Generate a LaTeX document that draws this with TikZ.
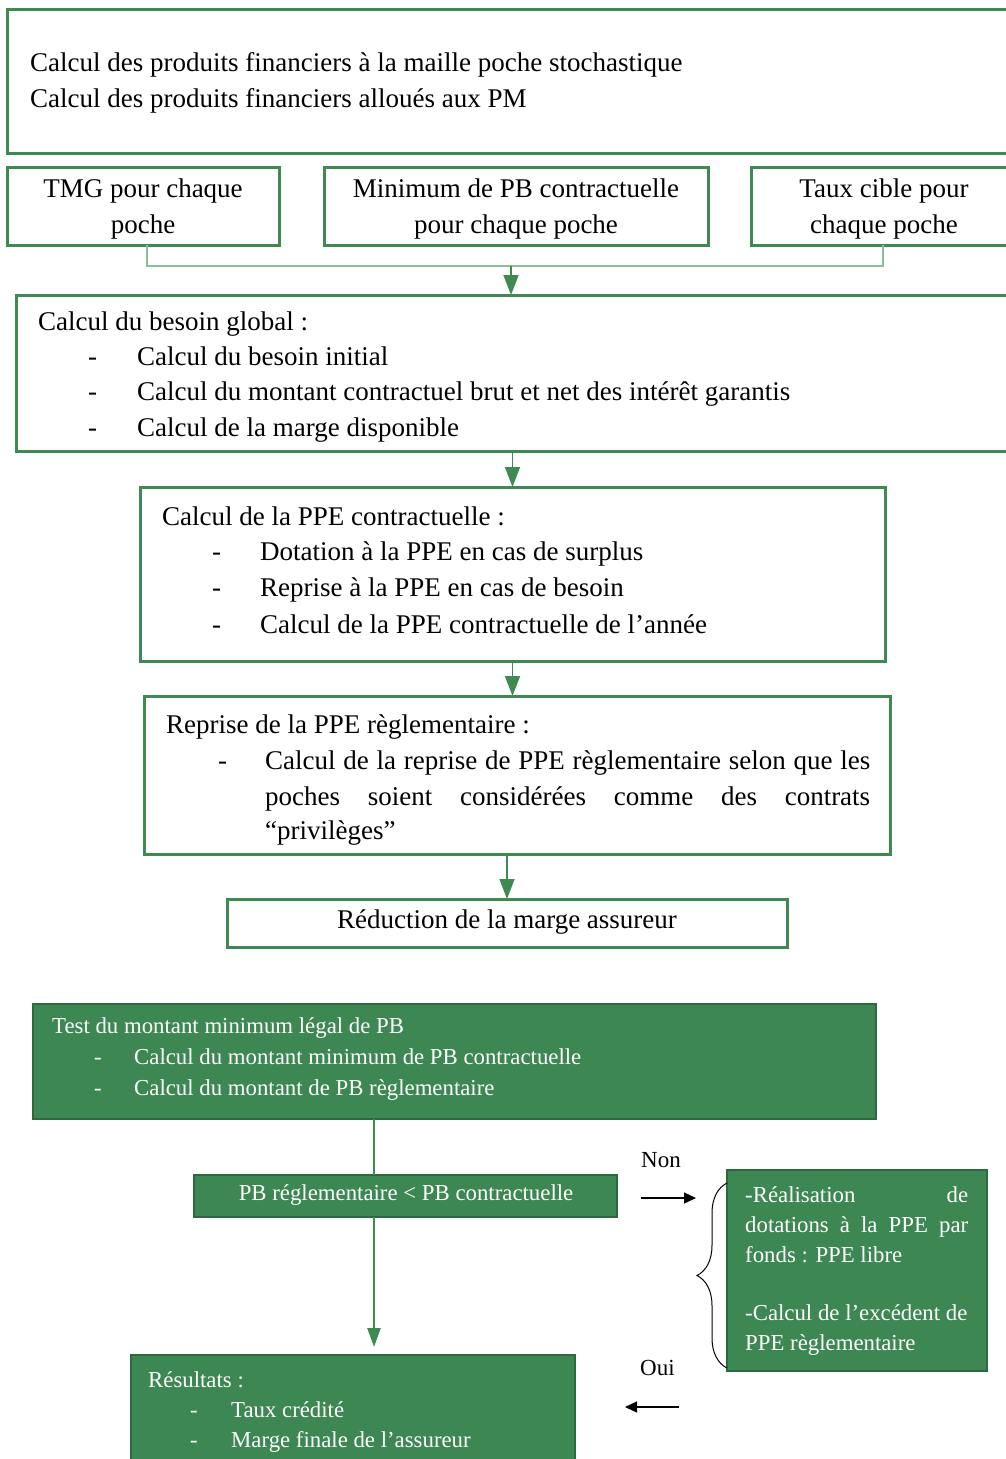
\documentclass[tikz,border=0pt]{standalone}
\usepackage{fontspec}
\setmainfont{Liberation Serif}
\usetikzlibrary{arrows.meta,decorations.pathreplacing}

\definecolor{lineGreen}{RGB}{62,138,82}
\definecolor{paleGreen}{RGB}{140,190,152}
\definecolor{fillGreen}{RGB}{61,135,83}
\definecolor{edgeGreen}{RGB}{46,104,64}

\newcommand\bodyfont{\fontsize{27pt}{36pt}\selectfont}
\newcommand\greenfont{\fontsize{22.8pt}{30pt}\selectfont}

\begin{document}
\begin{tikzpicture}[x=1pt,y=-1pt,
  outlinebox/.style={draw=lineGreen, line width=3pt, fill=white, inner sep=0pt, outer sep=0pt, anchor=north west},
  greenbox/.style={draw=edgeGreen, line width=2pt, fill=fillGreen, inner sep=0pt, outer sep=0pt, anchor=north west},
  txt/.style={inner sep=0pt, font=\bodyfont, text=black},
  wtxt/.style={inner sep=0pt, font=\greenfont, text=white},
  lbl/.style={inner sep=0pt, font=\fontsize{23pt}{28pt}\selectfont, text=black},
  feed/.style={draw=paleGreen, line width=2.2pt},
  flow/.style={draw=lineGreen, line width=1.6pt, -{Triangle[length=20pt,width=15pt]}},
  trunk/.style={draw=lineGreen, line width=2.4pt},
  trunkarrow/.style={draw=lineGreen, line width=2.4pt, -{Triangle[length=19pt,width=13pt]}},
  blackarrow/.style={draw=black, line width=1.2pt, -{Triangle[length=12pt,width=11pt]}}]

\useasboundingbox (0,0) rectangle (1006,1459);
\clip (0,0) rectangle (1006,1459);
\fill[white] (0,0) rectangle (1006,1459);

% ---------- upper part: outlined boxes ----------
\node[outlinebox, minimum width=1008pt, minimum height=144pt] (b1) at (7,9) {};
\node[txt, anchor=base west] (b1l1) at (30,71) {Calcul des produits financiers à la maille poche stochastique};
\node[txt, anchor=base west] (b1l2) at (30,107) {Calcul des produits financiers alloués aux PM};

\node[outlinebox, minimum width=272pt, minimum height=78pt] (bA) at (7,167) {};
\node[txt, anchor=base] (bAl1) at (143,197) {TMG pour chaque};
\node[txt, anchor=base] (bAl2) at (143,233) {poche};

\node[outlinebox, minimum width=384pt, minimum height=78pt] (bB) at (324,167) {};
\node[txt, anchor=base] (bBl1) at (516,197) {Minimum de PB contractuelle};
\node[txt, anchor=base] (bBl2) at (516,233) {pour chaque poche};

\node[outlinebox, minimum width=264pt, minimum height=78pt] (bC) at (751,167) {};
\node[txt, anchor=base] (bCl1) at (884,197) {Taux cible pour};
\node[txt, anchor=base] (bCl2) at (884,233) {chaque poche};

\node[outlinebox, minimum width=999pt, minimum height=156pt] (b3) at (16,295) {};
\node[txt, anchor=base west] (b3h) at (38,330) {Calcul du besoin global :};
\node[txt, anchor=base west] (b3d1) at (88,365) {-};
\node[txt, anchor=base west] (b3l1) at (137,365) {Calcul du besoin initial};
\node[txt, anchor=base west] (b3d2) at (88,400) {-};
\node[txt, anchor=base west] (b3l2) at (137,400) {Calcul du montant contractuel brut et net des intérêt garantis};
\node[txt, anchor=base west] (b3d3) at (88,436) {-};
\node[txt, anchor=base west] (b3l3) at (137,436) {Calcul de la marge disponible};

\node[outlinebox, minimum width=745pt, minimum height=174pt] (b4) at (140,487) {};
\node[txt, anchor=base west] (b4h) at (162,525) {Calcul de la PPE contractuelle :};
\node[txt, anchor=base west] (b4d1) at (212,560) {-};
\node[txt, anchor=base west] (b4l1) at (260,560) {Dotation à la PPE en cas de surplus};
\node[txt, anchor=base west] (b4d2) at (212,596) {-};
\node[txt, anchor=base west] (b4l2) at (260,596) {Reprise à la PPE en cas de besoin};
\node[txt, anchor=base west] (b4d3) at (212,633) {-};
\node[txt, anchor=base west] (b4l3) at (260,633) {Calcul de la PPE contractuelle de l’année};

\node[outlinebox, minimum width=746pt, minimum height=158pt] (b5) at (144,696) {};
\node[txt, anchor=base west] (b5h) at (166,733) {Reprise de la PPE règlementaire :};
\node[txt, anchor=base west] (b5d1) at (218,769) {-};
\node[txt, anchor=base west] (b5l1) at (265,769) {\makebox[605pt][s]{Calcul de la reprise de PPE règlementaire selon que les}};
\node[txt, anchor=base west] (b5l2) at (265,805) {\makebox[605pt][s]{poches soient considérées comme des contrats}};
\node[txt, anchor=base west] (b5l3) at (265,839) {“privilèges”};

\node[outlinebox, minimum width=560pt, minimum height=48pt] (b6) at (227,899) {};
\node[txt, anchor=base] (b6l) at (507,928) {Réduction de la marge assureur};

% connectors of the upper part
\coordinate (join) at (511,266);
\draw[feed] (bA.south) ++(4,0) |- (join) -| (bC.south);
\draw[flow] (join) -- (join |- b3.north);
\draw[flow] (b3.south -| b4.north) -- (b4.north);
\draw[flow] (b4.south) -- (b4.south |- b5.north);
\draw[flow] (b5.south -| b6.north) -- (b6.north);

% ---------- lower part: filled boxes ----------
\node[greenbox, minimum width=843pt, minimum height=115pt] (b7) at (33,1004) {};
\node[wtxt, anchor=base west] (b7h) at (52,1033) {Test du montant minimum légal de PB};
\node[wtxt, anchor=base west] (b7d1) at (94,1064) {-};
\node[wtxt, anchor=base west] (b7l1) at (134,1064) {Calcul du montant minimum de PB contractuelle};
\node[wtxt, anchor=base west] (b7d2) at (94,1095) {-};
\node[wtxt, anchor=base west] (b7l2) at (134,1095) {Calcul du montant de PB règlementaire};

\node[greenbox, minimum width=423pt, minimum height=42pt] (b8) at (194,1175) {};
\node[wtxt, anchor=base] (b8l) at (406,1200) {PB réglementaire < PB contractuelle};

\node[greenbox, minimum width=444pt, minimum height=107pt] (b9) at (131,1355) {};
\node[wtxt, anchor=base west] (b9h) at (148,1387) {Résultats :};
\node[wtxt, anchor=base west] (b9d1) at (190,1417) {-};
\node[wtxt, anchor=base west] (b9l1) at (231,1417) {Taux crédité};
\node[wtxt, anchor=base west] (b9d2) at (190,1447) {-};
\node[wtxt, anchor=base west] (b9l2) at (231,1447) {Marge finale de l’assureur};

\node[greenbox, minimum width=260pt, minimum height=201pt] (b10) at (727,1170) {};
\node[wtxt, anchor=base west] (b10l1) at (745,1202) {\makebox[223pt][s]{-Réalisation de}};
\node[wtxt, anchor=base west] (b10l2) at (745,1232) {\makebox[223pt][s]{dotations à la PPE par}};
\node[wtxt, anchor=base west] (b10l3) at (745,1262) {fonds : PPE libre};
\node[wtxt, anchor=base west] (b10l4) at (745,1320) {-Calcul de l’excédent de};
\node[wtxt, anchor=base west] (b10l5) at (745,1350) {PPE règlementaire};

\node[lbl, anchor=base west] (non) at (641,1167) {Non};
\node[lbl, anchor=base west] (oui) at (640,1375) {Oui};

% connectors of the lower part
\coordinate (stem) at (374,1119);
\draw[trunk] (b7.south -| stem) -- (b8.north -| stem);
\draw[trunkarrow, shorten >=8pt] (b8.south -| stem) -- (b9.north -| stem);
\coordinate (nonstart) at (641,1198);
\coordinate (ouistart) at (679,1407);
\draw[blackarrow, shorten >=31pt] (nonstart) -- (nonstart -| b10.west);
\draw[blackarrow, shorten >=50pt] (ouistart) -- (ouistart -| b9.east);
\draw[black, line width=1pt, decorate, decoration={brace, amplitude=30pt, aspect=0.5}]
  ([yshift=3pt]b10.south west) -- ([yshift=-13pt]b10.north west);

\end{tikzpicture}
\end{document}
